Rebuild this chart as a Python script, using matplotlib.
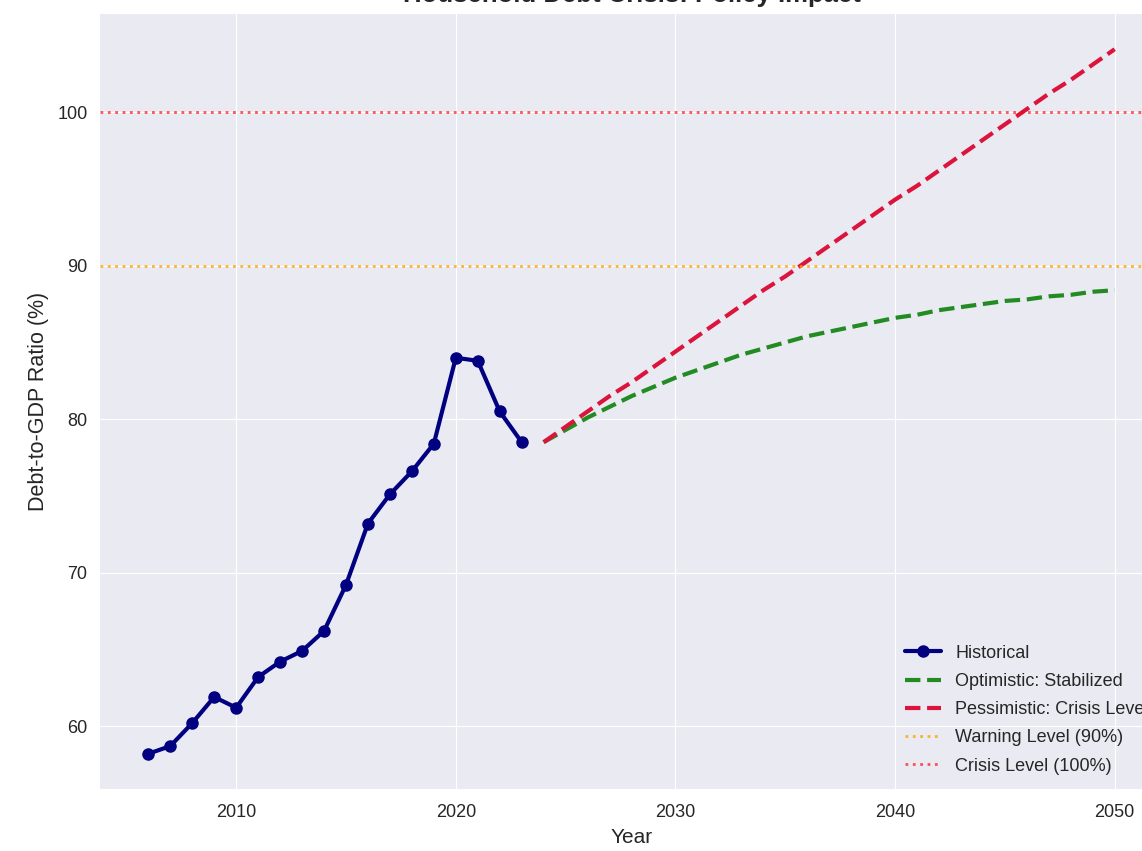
import numpy as np
import matplotlib
matplotlib.use("Agg")
import matplotlib.pyplot as plt

plt.style.use("seaborn-v0_8-darkgrid")
plt.rcParams["font.family"] = ["Liberation Sans", "DejaVu Sans"]

# historical debt-to-GDP ratio
hist_years = list(range(2006, 2024))
hist_ratio = [58.2, 58.7, 60.2, 61.9, 61.2, 63.2, 64.2, 64.9, 66.2, 69.2,
              73.2, 75.1, 76.6, 78.4, 84.0, 83.8, 80.5, 78.5]

# scenario projections
proj_years = list(range(2024, 2051))
optimistic = [78.5, 79.3, 80.1, 80.8, 81.5, 82.1, 82.7, 83.2, 83.7, 84.2,
              84.6, 85.0, 85.4, 85.7, 86.0, 86.3, 86.6, 86.8, 87.1, 87.3,
              87.5, 87.7, 87.8, 88.0, 88.1, 88.3, 88.4]
pessimistic = [78.5, 79.5, 80.5, 81.5, 82.4, 83.4, 84.4, 85.4, 86.4, 87.4,
               88.4, 89.3, 90.3, 91.3, 92.3, 93.3, 94.3, 95.2, 96.2, 97.2,
               98.2, 99.2, 100.2, 101.2, 102.1, 103.1, 104.1]

warning_level = 90
crisis_level = 100

fig = plt.figure(figsize=(11.42, 8.51), dpi=100)
ax = fig.add_axes([100/1142, 62/851, 1063/1142, 775/851])

ax.plot(hist_years, hist_ratio, color="navy", marker="o", lw=3, ms=8,
        label="Historical")
ax.plot(proj_years, optimistic, "--", color="forestgreen", lw=3,
        label="Optimistic: Stabilized")
ax.plot(proj_years, pessimistic, "--", color="crimson", lw=3,
        label="Pessimistic: Crisis Level")
ax.axhline(warning_level, color="orange", ls=":", lw=2, alpha=0.8,
           label="Warning Level (90%)")
ax.axhline(crisis_level, color="red", ls=":", lw=2, alpha=0.65,
           label="Crisis Level (100%)")

ax.set_title("Household Debt Crisis: Policy Impact", fontsize=18.5,
             fontweight="bold", pad=8.5)
ax.set_xlabel("Year", fontsize=15, labelpad=5)
ax.set_ylabel("Debt-to-GDP Ratio (%)", fontsize=15.5, labelpad=6)
ax.tick_params(axis="x", labelsize=13, pad=11)
ax.tick_params(axis="y", labelsize=13, pad=9)
ax.legend(loc="lower right", fontsize=13, labelspacing=0.62,
          borderaxespad=0.4)

fig.savefig("out.png", dpi=100)
